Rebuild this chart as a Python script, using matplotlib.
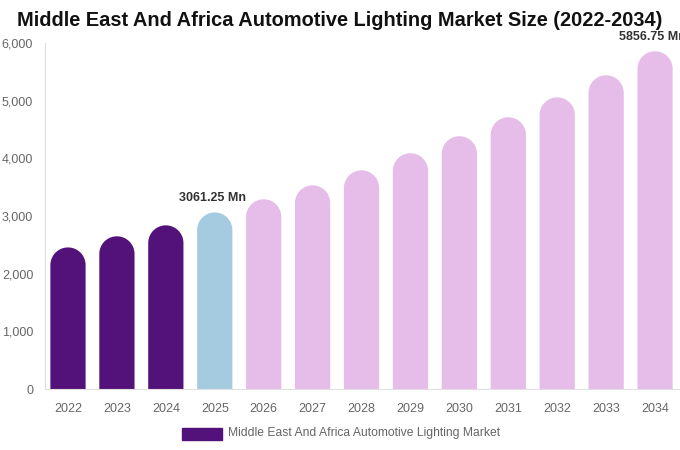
import numpy as np
import matplotlib.pyplot as plt
from matplotlib.patches import Rectangle

plt.rcParams['font.family'] = ['Liberation Sans', 'DejaVu Sans']

years = ['2022', '2023', '2024', '2025', '2026', '2027', '2028',
         '2029', '2030', '2031', '2032', '2033', '2034']
values = [2455, 2648, 2838, 3061.25, 3290, 3532, 3792,
          4088, 4383, 4712, 5058, 5440, 5856.75]
colors = ['#53127a'] * 3 + ['#a4cbdf'] + ['#e6bde8'] * 9
labels = {3: '3061.25 Mn', 12: '5856.75 Mn'}
yticks = [0, 1000, 2000, 3000, 4000, 5000, 6000]
legend_label = 'Middle East And Africa Automotive Lighting Market'

W, H = 680, 450
fig = plt.figure(figsize=(W / 100, H / 100), dpi=100)
ax_l, ax_b, ax_w, ax_h = 45 / W, 61 / H, 635 / W, 346 / H
ax = fig.add_axes([ax_l, ax_b, ax_w, ax_h])

xlim = (-0.47, 12.51)
ylim = (0, 6000)
ax.set_xlim(*xlim)
ax.set_ylim(*ylim)

bar_w = 0.72
# radius of the round cap in data units along y
px_per_x = ax_w * W / (xlim[1] - xlim[0])
px_per_y = ax_h * H / (ylim[1] - ylim[0])
r_y = (bar_w * px_per_x / 2) / px_per_y

x = np.arange(len(years))
t = np.linspace(0, np.pi, 60)
for i, v in enumerate(values):
    # bar outline: straight sides, rounded top
    xs = np.concatenate([[x[i] + bar_w / 2], x[i] + bar_w / 2 * np.cos(t), [x[i] - bar_w / 2]])
    ys = np.concatenate([[0], (v - r_y) + r_y * np.sin(t), [0]])
    ax.fill(xs, ys, color=colors[i], linewidth=0)
    if i in labels:
        ax.text(x[i] - 0.05, v + 150, labels[i], ha='center', va='bottom',
                fontsize=9, fontweight='bold', color='#333333', clip_on=False)

ax.set_xticks(x)
ax.set_xticklabels(years)
ax.set_yticks(yticks)
ax.set_yticklabels([f'{t:,}' for t in yticks])
ax.tick_params(axis='both', length=0, labelsize=9, colors='#666666')
ax.tick_params(axis='x', pad=10)
ax.tick_params(axis='y', pad=8.5)

for s in ['top', 'right']:
    ax.spines[s].set_visible(False)
ax.spines['left'].set_color('#e0e0e0')
ax.spines['bottom'].set_color('#e0e0e0')

fig.text(340 / W, 1 - 21 / H, 'Middle East And Africa Automotive Lighting Market Size (2022-2034)',
         ha='center', va='center', fontsize=14.4, fontweight='bold', color='#111111')

# legend
fig.patches.append(Rectangle((182 / W, 1 - 440 / H), 40 / W, 12 / H,
                             transform=fig.transFigure, color='#53127a'))
fig.text(228 / W, 1 - 433 / H, legend_label, ha='left', va='center',
         fontsize=8.7, color='#666666')

fig.savefig('out.png', dpi=100)
